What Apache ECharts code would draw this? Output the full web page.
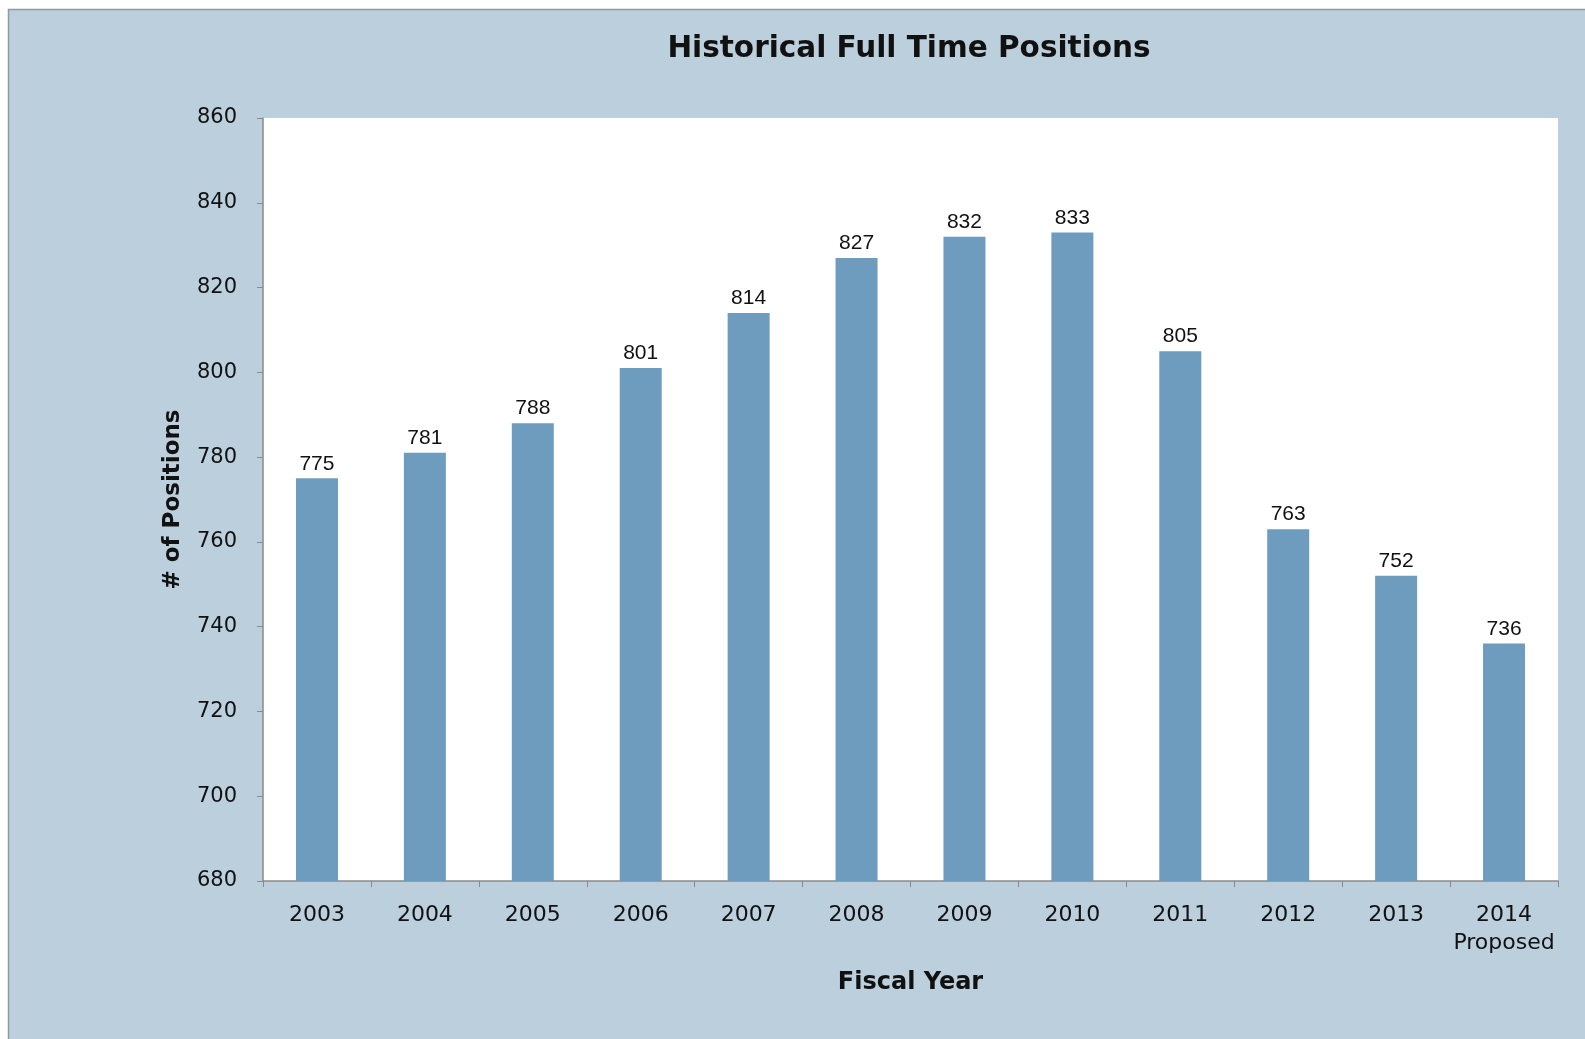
<!DOCTYPE html>
<html>
<head>
<meta charset="utf-8">
<title>Historical Full Time Positions</title>
<script src="https://cdn.jsdelivr.net/npm/echarts@6/dist/echarts.min.js"></script>
<style>
  html, body { margin: 0; padding: 0; background: #fff; }
  #main { width: 1585px; height: 1039px; }
</style>
</head>
<body>
<div id="main"></div>
<script>
// fiscal years on the x axis
var years = ['2003', '2004', '2005', '2006', '2007', '2008', '2009', '2010', '2011', '2012', '2013', '2014\nProposed'];
// full time positions per year
var positions = [775, 781, 788, 801, 814, 827, 832, 833, 805, 763, 752, 736];

var myChart = echarts.init(document.getElementById('main'));

var option = {
  animation: false,
  // the blue-grey panel behind the chart
  graphic: [{
    type: 'rect',
    z: -100,
    silent: true,
    shape: { x: 8.5, y: 9.5, width: 1600, height: 1100 },
    style: { fill: '#bccfdd', stroke: '#8f9aa3', lineWidth: 1.5 }
  }],
  title: {
    text: 'Historical Full Time Positions',
    left: 904,
    top: 29,
    textAlign: 'center',
    textStyle: {
      fontFamily: 'DejaVu Sans',
      fontWeight: 'bold',
      fontSize: 29.5,
      color: '#111'
    }
  },
  grid: {
    left: 263,
    top: 118,
    width: 1295,
    height: 763,
    show: true,
    backgroundColor: '#fff',
    borderWidth: 0
  },
  xAxis: {
    type: 'category',
    data: years,
    name: 'Fiscal Year',
    nameLocation: 'middle',
    nameGap: 90,
    nameTextStyle: {
      fontFamily: 'DejaVu Sans',
      fontWeight: 'bold',
      fontSize: 24,
      color: '#111'
    },
    axisLine: { lineStyle: { color: '#8a8a8a', width: 1.5 } },
    axisTick: { show: true, length: 6, lineStyle: { color: '#8a8a8a' } },
    axisLabel: {
      interval: 0,
      margin: 20,
      fontFamily: 'DejaVu Sans',
      fontSize: 22,
      lineHeight: 28,
      color: '#111'
    }
  },
  yAxis: {
    type: 'value',
    min: 680,
    max: 860,
    interval: 20,
    name: '# of Positions',
    nameLocation: 'middle',
    nameGap: 78,
    nameTextStyle: {
      fontFamily: 'DejaVu Sans',
      fontWeight: 'bold',
      fontSize: 23,
      color: '#111'
    },
    axisLine: { show: true, lineStyle: { color: '#8a8a8a', width: 1.5 } },
    axisTick: { show: true, length: 6, lineStyle: { color: '#8a8a8a' } },
    axisLabel: {
      margin: 26,
      fontFamily: 'DejaVu Sans',
      fontSize: 21,
      color: '#111'
    },
    splitLine: { show: false }
  },
  series: [{
    type: 'bar',
    data: positions,
    barWidth: 42,
    itemStyle: { color: '#6d9cbf' },
    label: {
      show: true,
      position: 'top',
      distance: 4,
      fontFamily: 'Liberation Sans',
      fontSize: 21,
      color: '#111'
    }
  }]
};

myChart.setOption(option);
</script>
</body>
</html>
